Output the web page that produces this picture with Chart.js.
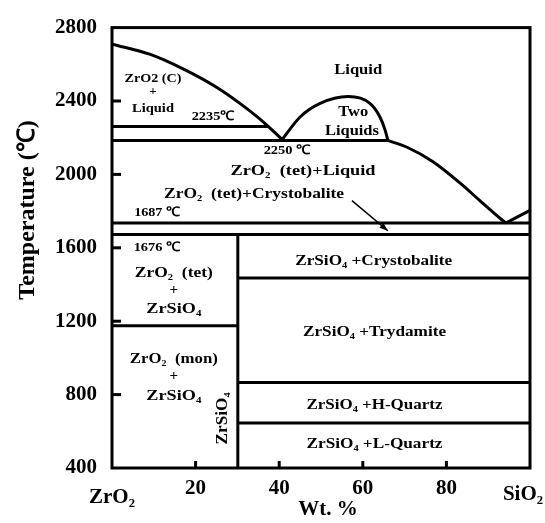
<!DOCTYPE html>
<html>
<head>
<meta charset="utf-8">
<script src="https://cdn.jsdelivr.net/npm/chart.js@4.4.1/dist/chart.umd.min.js"></script>
<style>
  body { margin: 0; background: #fff; }
</style>
</head>
<body>
<canvas id="phaseChart" width="545" height="523"></canvas>
<script>
// axis ticks
const xTicks = [20, 40, 60, 80];
const yTicks = [400, 800, 1200, 1600, 2000, 2400, 2800];

// liquidus, ZrO2 side (wt.% SiO2, temperature)
const leftLiqX = [0, 9, 17, 25, 31, 36.5, 40.7];
const leftLiqT = [2710, 2655, 2575, 2475, 2380, 2280, 2190];

// two-liquid dome
const domeX = [40.7, 45, 49.8, 56.5, 61.7, 64.1, 65.3, 66];
const domeT = [2190, 2313, 2387, 2424, 2387, 2313, 2244, 2185];

// liquidus, SiO2 side
const rightLiqX = [66, 70.6, 76.8, 83.3, 88, 91.6, 94.2];
const rightLiqT = [2185, 2148, 2069, 1952, 1857, 1785, 1735];
const silicaLiqX = [94.2, 96.9, 100];
const silicaLiqT = [1735, 1767, 1804];

// horizontal isotherms
const isoT = [2261, 2185, 1735, 1672, 1175, 1435, 866, 645];
const isoFrom = [0, 0, 0, 0, 0, 30.1, 30.1, 30.1];
const isoTo = [37.6, 66, 100, 100, 30.1, 100, 100, 100];

// ZrSiO4 line compound
const zircon = 30.1;
const zirconT = [1672, 400];

// arrow to the 1687/1676 band
const arrowX = [57.4, 66];
const arrowT = [1857, 1693];

const serif = "'Liberation Serif', 'Times New Roman', serif";

// labels: data position, font size, target width in px
const notes = [
  { text: 'Liquid', x: 58.9, t: 2567, size: 15, w: 48 },
  { text: 'Two', x: 57.7, t: 2339, size: 15, w: 30 },
  { text: 'Liquids', x: 57.4, t: 2238, size: 15, w: 54 },
  { text: 'ZrO2 (C)', x: 9.8, t: 2524, size: 13, w: 57 },
  { text: '+', x: 9.8, t: 2450, size: 13 },
  { text: 'Liquid', x: 9.8, t: 2360, size: 13, w: 42 },
  { text: '2235℃', x: 24.2, t: 2313, size: 13, w: 43 },
  { text: '2250 ℃', x: 41.9, t: 2127, size: 13, w: 47 },
  { text: 'ZrO₂  (tet)+Liquid', x: 45.7, t: 2016, size: 15, w: 145 },
  { text: 'ZrO₂  (tet)+Crystobalite', x: 34.0, t: 1894, size: 15, w: 180 },
  { text: '1687 ℃', x: 10.8, t: 1793, size: 13, w: 46 },
  { text: '1676 ℃', x: 10.8, t: 1603, size: 13, w: 47 },
  { text: 'ZrO₂  (tet)', x: 14.8, t: 1460, size: 15, w: 78 },
  { text: '+', x: 14.8, t: 1370, size: 15 },
  { text: 'ZrSiO₄', x: 14.8, t: 1264, size: 15, w: 55 },
  { text: 'ZrO₂  (mon)', x: 14.8, t: 993, size: 15, w: 88 },
  { text: '+', x: 14.8, t: 898, size: 15 },
  { text: 'ZrSiO₄', x: 14.8, t: 792, size: 15, w: 55 },
  { text: 'ZrSiO₄', x: 26.6, t: 670, size: 16, w: 52, rotate: true },
  { text: 'ZrSiO₄ +Crystobalite', x: 62.6, t: 1528, size: 15, w: 157 },
  { text: 'ZrSiO₄ +Trydamite', x: 62.8, t: 1142, size: 15, w: 143 },
  { text: 'ZrSiO₄ +H-Quartz', x: 62.8, t: 744, size: 15, w: 136 },
  { text: 'ZrSiO₄ +L-Quartz', x: 62.8, t: 532, size: 15, w: 136 }
];

function pts(xs, ts) {
  return xs.map((x, i) => ({ x: x, y: ts[i] }));
}

function line(data, curved) {
  return {
    data: data,
    showLine: true,
    borderColor: '#000',
    borderWidth: 3,
    pointRadius: 0,
    cubicInterpolationMode: curved ? 'monotone' : 'default',
    tension: 0
  };
}

const datasets = [
  line(pts(leftLiqX, leftLiqT), true),
  line(pts(domeX, domeT), true),
  line(pts(rightLiqX, rightLiqT), true),
  line(pts(silicaLiqX, silicaLiqT), true),
  line(zirconT.map(t => ({ x: zircon, y: t })), false)
];
isoT.forEach((t, i) => {
  datasets.push(line([{ x: isoFrom[i], y: t }, { x: isoTo[i], y: t }], false));
});
const arrowSet = line(pts(arrowX, arrowT), false);
arrowSet.borderWidth = 1.5;
datasets.push(arrowSet);

const decor = {
  id: 'decor',
  afterDatasetsDraw(chart) {
    const ctx = chart.ctx;
    const a = chart.chartArea;
    const xs = chart.scales.x, ys = chart.scales.y;
    ctx.save();
    ctx.strokeStyle = '#000';
    ctx.fillStyle = '#000';
    ctx.lineWidth = 3;
    ctx.strokeRect(a.left, a.top, a.right - a.left, a.bottom - a.top);

    // inward tick marks
    yTicks.slice(1, -1).forEach(v => {
      const py = ys.getPixelForValue(v);
      ctx.beginPath(); ctx.moveTo(a.left, py); ctx.lineTo(a.left + 9, py); ctx.stroke();
    });
    xTicks.forEach(v => {
      const px = xs.getPixelForValue(v);
      ctx.beginPath(); ctx.moveTo(px, a.bottom); ctx.lineTo(px, a.bottom - 7); ctx.stroke();
    });

    // arrow head
    const meta = chart.getDatasetMeta(datasets.length - 1).data;
    const p0 = meta[0], p1 = meta[1];
    const ang = Math.atan2(p1.y - p0.y, p1.x - p0.x);
    ctx.beginPath();
    ctx.moveTo(p1.x, p1.y);
    ctx.lineTo(p1.x - 9 * Math.cos(ang - 0.35), p1.y - 9 * Math.sin(ang - 0.35));
    ctx.lineTo(p1.x - 9 * Math.cos(ang + 0.35), p1.y - 9 * Math.sin(ang + 0.35));
    ctx.closePath();
    ctx.fill();

    // region labels
    ctx.textAlign = 'center';
    ctx.textBaseline = 'middle';
    notes.forEach(n => {
      ctx.font = 'bold ' + n.size + 'px ' + serif;
      const px = xs.getPixelForValue(n.x), py = ys.getPixelForValue(n.t);
      const sx = n.w ? n.w / ctx.measureText(n.text).width : 1;
      ctx.save();
      ctx.translate(px, py);
      if (n.rotate) ctx.rotate(-Math.PI / 2);
      ctx.scale(sx, 1);
      ctx.fillText(n.text, 0, 0);
      ctx.restore();
    });

    // axis captions
    ctx.font = 'bold 21px ' + serif;
    ctx.fillText('ZrO₂', 112, 498);
    ctx.fillText('SiO₂', 523, 495);
    ctx.fillText('Wt. %', 328, 510);
    ctx.save();
    ctx.font = 'bold 24px ' + serif;
    ctx.translate(28, 210);
    ctx.rotate(-Math.PI / 2);
    ctx.fillText('Temperature (℃)', 0, 0);
    ctx.restore();
    ctx.restore();
  }
};

new Chart(document.getElementById('phaseChart'), {
  type: 'scatter',
  data: { datasets: datasets },
  options: {
    responsive: false,
    animation: false,
    layout: { padding: { top: 15, right: 15, left: 0, bottom: 0 } },
    plugins: { legend: { display: false }, tooltip: { enabled: false } },
    scales: {
      x: {
        type: 'linear',
        min: 0,
        max: 100,
        grid: { display: false, drawTicks: false },
        border: { display: false },
        afterBuildTicks: s => { s.ticks = xTicks.map(v => ({ value: v })); },
        afterFit: s => { s.height = 55; },
        ticks: { color: '#000', padding: 8, callback: v => String(v), font: { family: serif, size: 21, weight: 'bold' } }
      },
      y: {
        type: 'linear',
        min: 400,
        max: 2800,
        grid: { display: false, drawTicks: false },
        border: { display: false },
        afterBuildTicks: s => { s.ticks = yTicks.map(v => ({ value: v })); },
        afterFit: s => { s.width = 112; },
        ticks: { color: '#000', padding: 15, callback: v => String(v), font: { family: serif, size: 21, weight: 'bold' } }
      }
    }
  },
  plugins: [decor]
});
</script>
</body>
</html>
